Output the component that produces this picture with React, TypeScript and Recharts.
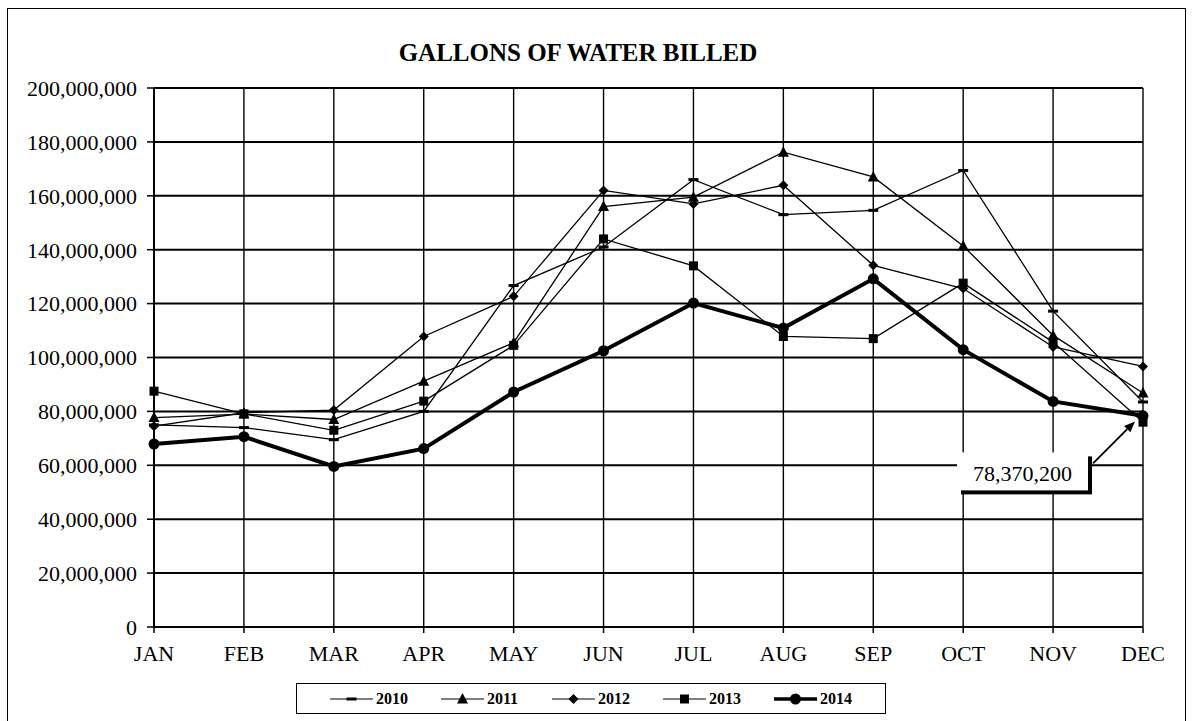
import { CartesianGrid, LabelList, Legend, Line, LineChart, XAxis, YAxis } from 'recharts'

const months = ['JAN', 'FEB', 'MAR', 'APR', 'MAY', 'JUN', 'JUL', 'AUG', 'SEP', 'OCT', 'NOV', 'DEC']

// gallons billed per month
const gallons2010 = [75000000, 74000000, 69500000, 80000000, 126700000, 141000000, 166000000, 153000000, 154600000, 169400000, 117200000, 83500000]
const gallons2011 = [77700000, 79000000, 77000000, 91200000, 105500000, 156000000, 159500000, 176200000, 167000000, 141400000, 108200000, 86800000]
const gallons2012 = [74500000, 79500000, 80500000, 107800000, 122700000, 162000000, 157000000, 163900000, 134200000, 125600000, 103900000, 96700000]
const gallons2013 = [87500000, 79100000, 73000000, 83800000, 104500000, 144000000, 134000000, 107800000, 107000000, 127600000, 105700000, 76000000]
const gallons2014 = [67900000, 70600000, 59600000, 66200000, 87200000, 102500000, 120200000, 110900000, 129200000, 102900000, 83700000, 78370200]

const yTicks = [0, 20000000, 40000000, 60000000, 80000000, 100000000, 120000000, 140000000, 160000000, 180000000, 200000000]

const data = months.map((month, i) => ({
  month,
  y2010: gallons2010[i],
  y2011: gallons2011[i],
  y2012: gallons2012[i],
  y2013: gallons2013[i],
  y2014: gallons2014[i],
}))

type MarkerKind = 'dash' | 'triangle' | 'diamond' | 'square' | 'circle'

const series: Array<{ key: string; name: string; width: number; marker: MarkerKind }> = [
  { key: 'y2010', name: '2010', width: 1.3, marker: 'dash' },
  { key: 'y2011', name: '2011', width: 1.3, marker: 'triangle' },
  { key: 'y2012', name: '2012', width: 1.3, marker: 'diamond' },
  { key: 'y2013', name: '2013', width: 1.3, marker: 'square' },
  { key: 'y2014', name: '2014', width: 4, marker: 'circle' },
]

const FONT = '"Liberation Serif", "Times New Roman", serif'

const Marker = ({ kind, cx, cy }: { kind: MarkerKind; cx: number; cy: number }) => {
  switch (kind) {
    case 'dash':
      return <rect x={cx - 5} y={cy - 1.5} width={10} height={3} fill="#000" />
    case 'triangle':
      return <polygon points={`${cx},${cy - 6} ${cx + 5.5},${cy + 4.5} ${cx - 5.5},${cy + 4.5}`} fill="#000" />
    case 'diamond':
      return <polygon points={`${cx},${cy - 5} ${cx + 5},${cy} ${cx},${cy + 5} ${cx - 5},${cy}`} fill="#000" />
    case 'square':
      return <rect x={cx - 4.5} y={cy - 4.5} width={9} height={9} fill="#000" />
    default:
      return <circle cx={cx} cy={cy} r={5.5} fill="#000" />
  }
}

const renderLegend = () => (
  <div
    style={{
      boxSizing: 'border-box',
      width: 590,
      height: 31,
      border: '1.5px solid #000',
      display: 'flex',
      alignItems: 'center',
      paddingLeft: 33,
      fontFamily: FONT,
      fontWeight: 'bold',
      fontSize: 16,
      color: '#000',
    }}
  >
    {series.map((s) => (
      <div key={s.key} style={{ display: 'flex', alignItems: 'center', width: 112.5 }}>
        <svg width={43} height={14}>
          <line x1={0} x2={43} y1={7} y2={7} stroke="#000" strokeWidth={s.width === 4 ? 3.5 : 1.2} />
          <Marker kind={s.marker} cx={21.5} cy={7} />
        </svg>
        <span style={{ marginLeft: 3 }}>{s.name}</span>
      </div>
    ))}
  </div>
)

// callout box with arrow pointing at the last 2014 value
const renderCallout = (props: any) => {
  const { x, y, value, index } = props
  if (index !== months.length - 1) return null
  const bx = x - 186
  const by = y + 36.6
  const bw = 131
  const bh = 38
  const sx = x - 50
  const sy = y + 47.6
  const tx = x - 8
  const ty = y + 5.6
  const len = Math.hypot(tx - sx, ty - sy)
  const ux = (tx - sx) / len
  const uy = (ty - sy) / len
  const hx = tx - ux * 11
  const hy = ty - uy * 11
  return (
    <g>
      <rect x={bx + 4} y={by + 4} width={bw} height={bh} fill="#000" />
      <rect x={bx} y={by} width={bw} height={bh} fill="#fff" />
      <text
        x={bx + bw / 2}
        y={by + bh / 2 + 2}
        textAnchor="middle"
        dominantBaseline="central"
        fontFamily={FONT}
        fontSize={22}
        fill="#000"
      >
        {Number(value).toLocaleString('en-US')}
      </text>
      <line x1={sx} y1={sy} x2={hx} y2={hy} stroke="#000" strokeWidth={1.8} />
      <polygon
        points={`${tx},${ty} ${hx - uy * 4.5},${hy + ux * 4.5} ${hx + uy * 4.5},${hy - ux * 4.5}`}
        fill="#000"
      />
    </g>
  )
}

export default function App() {
  return (
    <div
      style={{
        position: 'fixed',
        left: 0,
        top: 0,
        width: 1193,
        height: 721,
        background: '#fff',
        overflow: 'hidden',
      }}
    >
      <div
        style={{
          position: 'absolute',
          left: 7,
          top: 8,
          width: 1179,
          height: 740,
          border: '1.5px solid #000',
          boxSizing: 'border-box',
        }}
      />
      <div
        style={{
          position: 'absolute',
          left: 578,
          top: 40,
          transform: 'translateX(-50%)',
          fontFamily: FONT,
          fontWeight: 'bold',
          fontSize: 25,
          lineHeight: '25px',
          whiteSpace: 'nowrap',
          color: '#000',
        }}
      >
        GALLONS OF WATER BILLED
      </div>
      <div style={{ position: 'absolute', left: 0, top: 0 }}>
        <LineChart width={1193} height={721} data={data} margin={{ top: 88, right: 50, bottom: 54, left: 0 }}>
          <CartesianGrid horizontal={false} vertical stroke="#000" strokeWidth={1.4} />
          <CartesianGrid horizontal vertical={false} stroke="#000" strokeWidth={2} />
          <XAxis
            dataKey="month"
            height={40}
            padding={{ left: 0, right: 0 }}
            axisLine={{ stroke: '#000', strokeWidth: 2 }}
            tickLine={{ stroke: '#000', strokeWidth: 1.5 }}
            tickSize={6}
            tickMargin={12}
            interval={0}
            tick={{ fill: '#000', fontSize: 22, fontFamily: FONT }}
          />
          <YAxis
            width={154}
            domain={[0, 200000000]}
            ticks={yTicks}
            interval={0}
            axisLine={{ stroke: '#000', strokeWidth: 2 }}
            tickLine={{ stroke: '#000', strokeWidth: 1.5 }}
            tickSize={7}
            tickMargin={10}
            tickFormatter={(v: number) => v.toLocaleString('en-US')}
            tick={{ fill: '#000', fontSize: 22, fontFamily: FONT }}
          />
          <Legend
            layout="horizontal"
            align="center"
            verticalAlign="middle"
            content={renderLegend}
            wrapperStyle={{ left: 296, top: 683, width: 590, height: 31 }}
          />
          {series.map((s) => (
            <Line
              key={s.key}
              type="linear"
              dataKey={s.key}
              name={s.name}
              stroke="#000"
              strokeWidth={s.width}
              isAnimationActive={false}
              dot={(p: any) => <Marker key={`${s.key}-${p.index}`} kind={s.marker} cx={p.cx} cy={p.cy} />}
              activeDot={false}
            >
              {s.key === 'y2014' && <LabelList dataKey="y2014" content={renderCallout} />}
            </Line>
          ))}
        </LineChart>
      </div>
    </div>
  )
}
